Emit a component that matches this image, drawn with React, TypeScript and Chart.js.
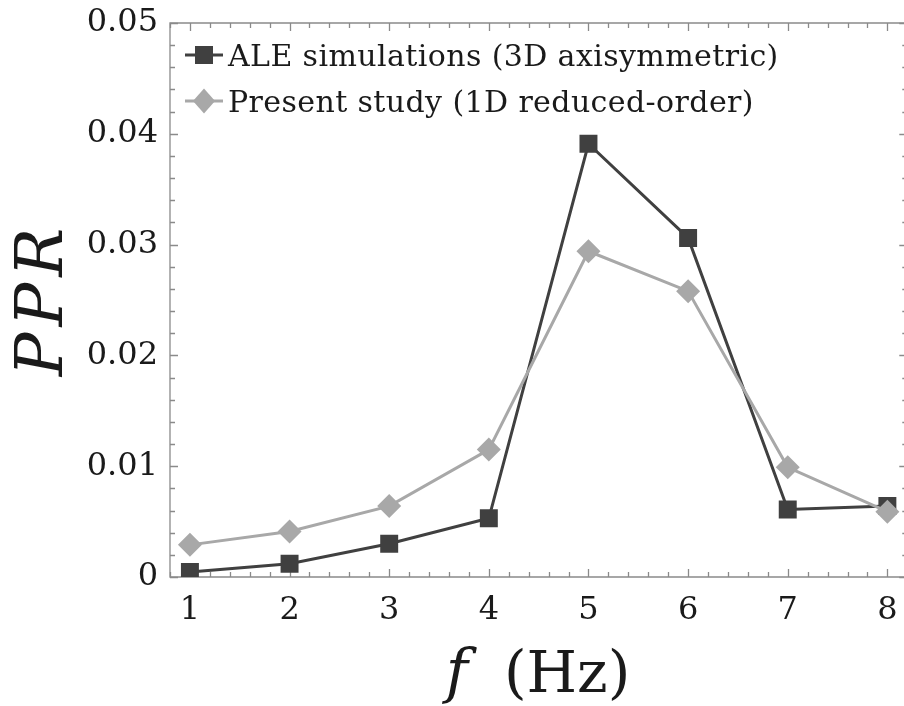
import React, { useEffect, useRef } from "react";
import { Chart, registerables } from "chart.js";

Chart.register(...registerables);

// Forcing frequency (Hz) and peak pressure ratio for both models
const frequencies = [1, 2, 3, 4, 5, 6, 7, 8];
const aleValues = [0.00045, 0.0012, 0.003, 0.0053, 0.0391, 0.0306, 0.0061, 0.0064];
const presentValues = [0.0029, 0.0041, 0.0064, 0.0115, 0.0294, 0.0258, 0.0099, 0.0059];

const xTickValues = [1, 2, 3, 4, 5, 6, 7, 8];
const yTickValues = [0, 0.01, 0.02, 0.03, 0.04, 0.05];
const seriesLabels = [
  "ALE simulations (3D axisymmetric)",
  "Present study (1D reduced-order)",
];

const X_MIN = 0.8;
const X_MAX = 8.2;
const X_MINOR = 0.2;
const Y_MIN = 0;
const Y_MAX = 0.05;
const Y_MINOR = 0.002;

const DARK = "#404040";
const LIGHT = "#a8a8a8";
const FRAME = "#8a8a8a";
const SERIF = "'DejaVu Serif', serif";

function drawMarker(ctx: CanvasRenderingContext2D, kind: string, x: number, y: number, color: string) {
  ctx.fillStyle = color;
  ctx.beginPath();
  if (kind === "rect") {
    ctx.rect(x - 9, y - 9, 18, 18);
  } else {
    ctx.moveTo(x, y - 12.5);
    ctx.lineTo(x + 11, y);
    ctx.lineTo(x, y + 12.5);
    ctx.lineTo(x - 11, y);
    ctx.closePath();
  }
  ctx.fill();
}

// Axis frame with inward major/minor ticks on all four sides
const framePlugin = {
  id: "frameTicks",
  beforeDatasetsDraw(chart: any) {
    const { ctx, chartArea: a, scales } = chart;
    const xs = scales.x;
    const ys = scales.y;
    ctx.save();
    ctx.strokeStyle = FRAME;
    ctx.lineWidth = 1.3;
    ctx.beginPath();
    ctx.rect(a.left, a.top, a.right - a.left, a.bottom - a.top);
    ctx.stroke();

    ctx.beginPath();
    const nx = Math.round((X_MAX - X_MIN) / X_MINOR);
    for (let i = 0; i <= nx; i++) {
      const v = X_MIN + i * X_MINOR;
      const major = xTickValues.some((t) => Math.abs(t - v) < 1e-6);
      const len = major ? 8 : 5;
      const px = Math.round(xs.getPixelForValue(v)) + 0.5;
      ctx.moveTo(px, a.bottom);
      ctx.lineTo(px, a.bottom - len);
      ctx.moveTo(px, a.top);
      ctx.lineTo(px, a.top + len);
    }
    const ny = Math.round((Y_MAX - Y_MIN) / Y_MINOR);
    for (let i = 0; i <= ny; i++) {
      const v = Y_MIN + i * Y_MINOR;
      const major = yTickValues.some((t) => Math.abs(t - v) < 1e-9);
      const len = major ? 8 : 5;
      const py = Math.round(ys.getPixelForValue(v)) + 0.5;
      ctx.moveTo(a.left, py);
      ctx.lineTo(a.left + len, py);
      ctx.moveTo(a.right, py);
      ctx.lineTo(a.right - len, py);
    }
    ctx.stroke();
    ctx.restore();
  },
  afterDraw(chart: any) {
    const { ctx, chartArea: a } = chart;
    ctx.save();

    // Legend: line segment with marker, then label
    const styles = [
      { kind: "rect", color: DARK },
      { kind: "rectRot", color: LIGHT },
    ];
    seriesLabels.forEach((label, i) => {
      const cy = a.top + 32 + i * 46;
      ctx.strokeStyle = styles[i].color;
      ctx.lineWidth = 3;
      ctx.beginPath();
      ctx.moveTo(a.left + 15, cy);
      ctx.lineTo(a.left + 53, cy);
      ctx.stroke();
      drawMarker(ctx, styles[i].kind, a.left + 34, cy, styles[i].color);
      ctx.fillStyle = "#1a1a1a";
      ctx.font = `30px ${SERIF}`;
      ctx.textAlign = "left";
      ctx.textBaseline = "alphabetic";
      (ctx as any).letterSpacing = "0.4px";
      ctx.fillText(label, a.left + 58, cy + 11);
      (ctx as any).letterSpacing = "0px";
    });

    // Y axis title
    ctx.save();
    ctx.translate(62, (a.top + a.bottom) / 2 + 2);
    ctx.rotate(-Math.PI / 2);
    ctx.font = `italic 65px ${SERIF}`;
    (ctx as any).letterSpacing = "6px";
    ctx.textAlign = "center";
    ctx.textBaseline = "alphabetic";
    ctx.fillStyle = "#1a1a1a";
    ctx.fillText("PPR", 3, 0);
    (ctx as any).letterSpacing = "0px";
    ctx.restore();

    // X axis title: italic f followed by upright unit
    const fFont = `italic 60px ${SERIF}`;
    const uFont = `58px ${SERIF}`;
    ctx.font = fFont;
    const wf = ctx.measureText("f").width;
    ctx.font = uFont;
    const gap = 34;
    const wu = ctx.measureText("(Hz)").width;
    const total = wf + gap + wu;
    const cx = (a.left + 900) / 2 + 2;
    const x0 = cx - total / 2;
    const base = 692;
    ctx.fillStyle = "#1a1a1a";
    ctx.textAlign = "left";
    ctx.textBaseline = "alphabetic";
    ctx.font = fFont;
    ctx.fillText("f", x0, base);
    ctx.font = uFont;
    ctx.fillText("(Hz)", x0 + wf + gap + 2, base);
    ctx.restore();
  },
};

export default function App() {
  const ref = useRef<HTMLCanvasElement | null>(null);

  useEffect(() => {
    document.body.style.margin = "0";
    const canvas = ref.current;
    if (!canvas) return;
    const chart = new Chart(canvas, {
      type: "line",
      data: {
        labels: frequencies,
        datasets: [
          {
            label: seriesLabels[0],
            data: frequencies.map((f, i) => ({ x: f, y: aleValues[i] })),
            borderColor: DARK,
            backgroundColor: DARK,
            borderWidth: 3,
            pointStyle: "rect",
            pointRadius: 12.7,
            pointBorderWidth: 0,
            pointHoverRadius: 12.7,
            order: 1,
          },
          {
            label: seriesLabels[1],
            data: frequencies.map((f, i) => ({ x: f, y: presentValues[i] })),
            borderColor: LIGHT,
            backgroundColor: LIGHT,
            borderWidth: 3,
            pointStyle: "rectRot",
            pointRadius: 12,
            pointBorderWidth: 0,
            pointHoverRadius: 12,
            order: 0,
          },
        ],
      },
      options: {
        animation: false,
        responsive: false,
        maintainAspectRatio: false,
        events: [],
        layout: { padding: { left: 0, top: 23, right: 10, bottom: 0 } },
        plugins: {
          legend: { display: false },
          tooltip: { enabled: false },
        },
        scales: {
          x: {
            type: "linear",
            min: X_MIN,
            max: X_MAX,
            border: { display: false },
            grid: { display: false, drawTicks: false },
            afterBuildTicks: (s: any) => {
              s.ticks = xTickValues.map((v) => ({ value: v }));
            },
            afterFit: (s: any) => {
              s.height = 129;
              s.paddingLeft = 0;
              s.paddingRight = 0;
            },
            ticks: {
              padding: 14,
              color: "#1a1a1a",
              font: { family: SERIF, size: 32 },
              maxRotation: 0,
              autoSkip: false,
            },
          },
          y: {
            type: "linear",
            min: Y_MIN,
            max: Y_MAX,
            border: { display: false },
            grid: { display: false, drawTicks: false },
            afterBuildTicks: (s: any) => {
              s.ticks = yTickValues.map((v) => ({ value: v }));
            },
            afterFit: (s: any) => {
              s.width = 170;
              s.paddingTop = 0;
              s.paddingBottom = 0;
            },
            ticks: {
              padding: 12,
              color: "#1a1a1a",
              font: { family: SERIF, size: 32 },
              callback: (v: any) => String(Number(v)),
            },
          },
        },
      },
      plugins: [framePlugin],
    });
    return () => chart.destroy();
  }, []);

  return (
    <div style={{ width: 904, height: 706, overflow: "hidden", background: "#fff" }}>
      <canvas ref={ref} width={920} height={706} style={{ display: "block" }} />
    </div>
  );
}
